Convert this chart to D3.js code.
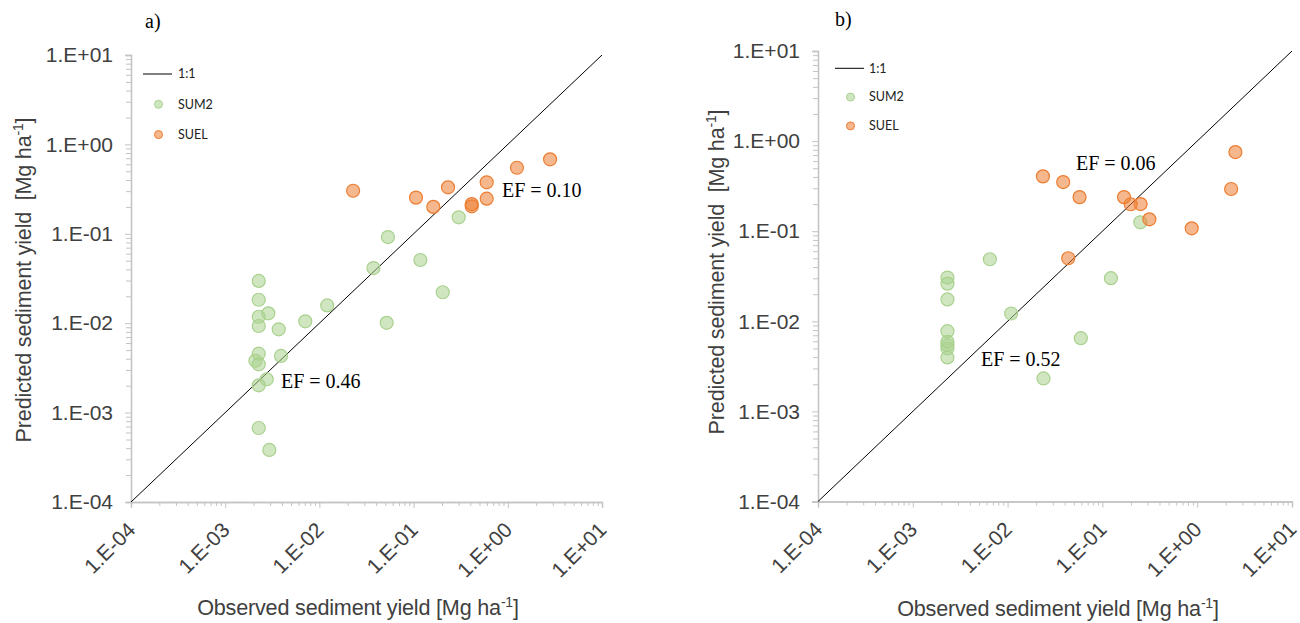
<!DOCTYPE html>
<html><head><meta charset="utf-8">
<script src="https://cdn.jsdelivr.net/npm/d3@7"></script>
<style>body{margin:0;background:#fff} svg{display:block}</style>
</head><body>
<svg id="c" width="1300" height="623"></svg>
<script>
// ---- data ----
const tickValues = [1e-4, 1e-3, 1e-2, 1e-1, 1e0, 1e1];
const tickLabels = ["1.E-04", "1.E-03", "1.E-02", "1.E-01", "1.E+00", "1.E+01"];
const seriesNames = ["1:1", "SUM2", "SUEL"];

const sum2ObsA  = [0.00227,0.00227,0.00287,0.00227,0.00227,0.0037,0.00708,0.0121,0.0375,0.0518,0.00227,0.00391,0.00209,0.00227,0.00276,0.00227,0.00227,0.00294,0.0534,0.301,0.118,0.204];
const sum2PredA = [0.0297,0.0183,0.0129,0.0118,0.0093,0.00855,0.0105,0.0158,0.0414,0.0101,0.00456,0.0043,0.0038,0.00347,0.00236,0.00202,0.000673,0.000382,0.092,0.153,0.0509,0.0222];
const suelObsA  = [0.0228,0.106,0.232,0.162,0.414,0.414,0.597,0.597,1.25,2.81];
const suelPredA = [0.303,0.254,0.331,0.2,0.215,0.203,0.377,0.247,0.548,0.681];

const sum2ObsB  = [0.0065,0.00232,0.00232,0.00232,0.0109,0.00232,0.00232,0.00232,0.00232,0.00232,0.0592,0.0239,0.251,0.123];
const sum2PredB = [0.0488,0.0306,0.0262,0.0175,0.0122,0.00777,0.00592,0.00543,0.00499,0.00397,0.0065,0.00232,0.1256,0.0301];
const suelObsB  = [0.0236,0.0386,0.0574,0.0436,2.53,2.28,0.169,0.199,0.253,0.313,0.875];
const suelPredB = [0.406,0.351,0.239,0.0501,0.755,0.294,0.239,0.199,0.2,0.1355,0.1077];

const efA = ["EF = 0.46", "EF = 0.10"];
const efB = ["EF = 0.52", "EF = 0.06"];

// ---- drawing ----
const svg = d3.select("#c");
const axisColor = "#c4c4c4";
const textColor = "#404040";
const sansFont = "'Liberation Sans', Arial, sans-serif";
const serifFont = "'Liberation Serif', 'Times New Roman', serif";
const legendFont = "Lato, 'Open Sans', sans-serif";

function zip(a, b) { return a.map((v, i) => [v, b[i]]); }

function panel(cfg) {
  const g = svg.append("g");
  const x = d3.scaleLog().domain([1e-4, 1e1]).range([cfg.x0, cfg.x1]);
  const y = d3.scaleLog().domain([1e-4, 1e1]).range([cfg.y0, cfg.y1]);
  const minor = x.ticks().filter(v => !tickValues.some(t => Math.abs(t - v) / t < 1e-6));
  const fmt = v => tickLabels[tickValues.findIndex(t => Math.abs(t - v) / t < 1e-6)];

  // y axis
  const ya = g.append("g").attr("transform", `translate(${cfg.x0},0)`);
  ya.call(d3.axisLeft(y).tickValues(minor).tickSize(5).tickFormat(""));
  const yM = g.append("g").attr("transform", `translate(${cfg.x0},0)`)
    .call(d3.axisLeft(y).tickValues(tickValues).tickSize(6).tickPadding(12).tickFormat(fmt));
  // x axis
  const xa = g.append("g").attr("transform", `translate(0,${cfg.y0})`);
  xa.call(d3.axisBottom(x).tickValues(minor).tickSize(4).tickFormat(""));
  const xM = g.append("g").attr("transform", `translate(0,${cfg.y0})`)
    .call(d3.axisBottom(x).tickValues(tickValues).tickSize(6).tickFormat(fmt));
  xM.selectAll("text")
    .attr("x", 0).attr("y", 0).attr("dy", "0.35em")
    .attr("text-anchor", "end")
    .attr("transform", "translate(0,24) rotate(-45)");

  [ya, yM, xa, xM].forEach(a => {
    a.selectAll("path.domain").attr("stroke", axisColor).attr("stroke-width", 1.3);
    a.selectAll("line").attr("stroke", axisColor).attr("stroke-width", 1);
    a.selectAll("text").attr("fill", textColor).style("font-family", sansFont).style("font-size", "21px");
  });

  // 1:1 line
  g.append("path")
    .attr("d", d3.line().x(d => x(d)).y(d => y(d))([1e-4, 1e1]))
    .attr("stroke", "#000").attr("stroke-width", 1).attr("fill", "none");

  // points
  const green = zip(cfg.sum2Obs, cfg.sum2Pred);
  const orange = zip(cfg.suelObs, cfg.suelPred);
  g.append("g").selectAll("circle").data(green).join("circle")
    .attr("cx", d => x(d[0])).attr("cy", d => y(d[1])).attr("r", 6.5)
    .attr("fill", "#a9d18e").attr("fill-opacity", 0.55)
    .attr("stroke", "#a9d18e").attr("stroke-width", 1.2);
  g.append("g").selectAll("circle").data(orange).join("circle")
    .attr("cx", d => x(d[0])).attr("cy", d => y(d[1])).attr("r", 6.5)
    .attr("fill", "#ed7d31").attr("fill-opacity", 0.55)
    .attr("stroke", "#ed7d31").attr("stroke-width", 1.2);

  // legend
  const lg = g.append("g").style("font-family", legendFont).style("font-size", "12.5px").attr("fill", "#222");
  lg.append("line").attr("x1", cfg.legX).attr("x2", cfg.legX + 29)
    .attr("y1", cfg.legY).attr("y2", cfg.legY).attr("stroke", "#000").attr("stroke-width", 1);
  const legItems = [
    { name: seriesNames[0] },
    { name: seriesNames[1], c: "#a9d18e" },
    { name: seriesNames[2], c: "#ed7d31" }
  ];
  legItems.forEach((it, i) => {
    const yy = cfg.legY + i * cfg.legStep;
    if (it.c) {
      lg.append("circle").attr("cx", cfg.legX + 15.5).attr("cy", yy).attr("r", 4)
        .attr("fill", it.c).attr("fill-opacity", 0.55).attr("stroke", it.c).attr("stroke-width", 1);
    }
    lg.append("text").attr("x", cfg.legX + cfg.legTextDx).attr("y", yy).attr("dy", "0.35em").text(it.name);
  });

  // EF labels
  cfg.ef.forEach((t, i) => {
    g.append("text").attr("x", cfg.efPos[i][0]).attr("y", cfg.efPos[i][1]).attr("dy", "0.35em")
      .style("font-family", serifFont).style("font-size", "20px").attr("fill", "#000").text(t);
  });

  // panel title
  g.append("text").attr("x", cfg.titleX).attr("y", cfg.titleY)
    .style("font-family", serifFont).style("font-size", "20px").attr("fill", "#000").text(cfg.title);

  // axis titles
  const xt = g.append("text").attr("x", cfg.xTitle[0]).attr("y", cfg.xTitle[1]).attr("text-anchor", "middle")
    .style("font-family", sansFont).style("font-size", "21.6px").style("letter-spacing", "-0.2px").attr("fill", textColor);
  xt.append("tspan").text("Observed sediment yield [Mg ha");
  xt.append("tspan").attr("dy", -8).style("font-size", "14px").text("-1");
  xt.append("tspan").attr("dy", 8).text("]");

  const yt = g.append("text").attr("transform", `translate(${cfg.yTitle[0]},${cfg.yTitle[1]}) rotate(-90)`)
    .attr("text-anchor", "middle").style("font-family", sansFont).style("font-size", "21.6px")
    .style("letter-spacing", "-0.2px").attr("fill", textColor).attr("xml:space", "preserve");
  yt.append("tspan").text("Predicted sediment yield  [Mg ha");
  yt.append("tspan").attr("dy", -8).style("font-size", "14px").text("-1");
  yt.append("tspan").attr("dy", 8).text("]");
}

panel({
  x0: 131, x1: 602, y0: 502, y1: 55,
  sum2Obs: sum2ObsA, sum2Pred: sum2PredA, suelObs: suelObsA, suelPred: suelPredA,
  legX: 143, legY: 74, legStep: 30.3, legTextDx: 35,
  ef: efA, efPos: [[281, 381], [502, 190]],
  title: "a)", titleX: 145, titleY: 28,
  xTitle: [358, 615], yTitle: [31, 280]
});
panel({
  x0: 818, x1: 1292, y0: 501.5, y1: 51,
  sum2Obs: sum2ObsB, sum2Pred: sum2PredB, suelObs: suelObsB, suelPred: suelPredB,
  legX: 835, legY: 68.3, legStep: 28.8, legTextDx: 34,
  ef: efB, efPos: [[981, 359], [1076, 163]],
  title: "b)", titleX: 835, titleY: 26,
  xTitle: [1058, 616], yTitle: [724, 272]
});
</script>
</body></html>
